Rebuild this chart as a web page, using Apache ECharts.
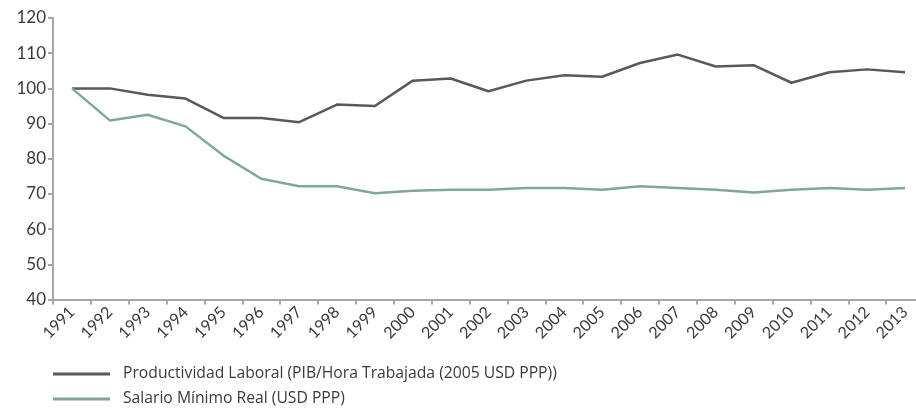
<!DOCTYPE html>
<html>
<head>
<meta charset="utf-8">
<script src="https://cdn.jsdelivr.net/npm/echarts@6/dist/echarts.min.js"></script>
<style>
  html, body { margin: 0; padding: 0; background: #fff; }
  #chart { width: 916px; height: 414px; }
</style>
</head>
<body>
<div id="chart"></div>
<script>
// Years on the x axis
const years = ['1991', '1992', '1993', '1994', '1995', '1996', '1997', '1998', '1999', '2000',
  '2001', '2002', '2003', '2004', '2005', '2006', '2007', '2008', '2009', '2010', '2011', '2012', '2013'];

// Index 1991 = 100
const productividad = [100, 100, 98.2, 97.1, 91.6, 91.6, 90.4, 95.4, 95.0, 102.2,
  102.8, 99.2, 102.2, 103.7, 103.3, 107.2, 109.6, 106.2, 106.6, 101.6, 104.6, 105.4, 104.6];

const salario = [100, 90.9, 92.5, 89.2, 80.9, 74.3, 72.2, 72.2, 70.2, 70.9,
  71.2, 71.2, 71.7, 71.7, 71.2, 72.2, 71.7, 71.2, 70.4, 71.2, 71.7, 71.2, 71.7];

const seriesNames = [
  'Productividad Laboral (PIB/Hora Trabajada (2005 USD PPP))',
  'Salario Mínimo Real (USD PPP)'
];

const axisGrey = '#a6a6a6';
const labelFont = 'Lato';

let chart = echarts.init(document.getElementById('chart'));

const option = {
  animation: false,
  color: ['#58595b', '#7fa89b'],
  grid: {
    left: 53,
    top: 18,
    width: 871,
    height: 281.5,
    outerBoundsMode: 'none'
  },
  legend: {
    orient: 'vertical',
    left: 53,
    top: 366,
    padding: 0,
    itemWidth: 57,
    itemHeight: 3,
    itemGap: 9,
    icon: 'rect',
    textStyle: {
      fontFamily: 'Open Sans',
      fontSize: 15.7,
      color: '#3a3a3a',
      padding: [0, 0, 0, 8]
    },
    data: seriesNames
  },
  xAxis: {
    type: 'category',
    data: years,
    boundaryGap: true,
    axisLine: { lineStyle: { color: axisGrey, width: 2 } },
    axisTick: { show: true, length: 5, lineStyle: { color: axisGrey, width: 2 } },
    axisLabel: {
      rotate: 45,
      interval: 0,
      margin: 10,
      fontFamily: labelFont,
      fontSize: 16,
      color: '#3a3a3a'
    },
    splitLine: { show: false }
  },
  yAxis: {
    type: 'value',
    min: 40,
    max: 120,
    interval: 10,
    axisLine: { show: true, lineStyle: { color: axisGrey, width: 2 } },
    axisTick: { show: true, length: 5, lineStyle: { color: axisGrey, width: 2 } },
    axisLabel: {
      margin: 7,
      fontFamily: labelFont,
      fontSize: 17,
      color: '#3a3a3a'
    },
    splitLine: { show: false }
  },
  series: [
    {
      name: seriesNames[0],
      type: 'line',
      data: productividad,
      symbol: 'none',
      lineStyle: { width: 2.5 }
    },
    {
      name: seriesNames[1],
      type: 'line',
      data: salario,
      symbol: 'none',
      lineStyle: { width: 2.5 }
    }
  ]
};

chart.setOption(option);
</script>
</body>
</html>
